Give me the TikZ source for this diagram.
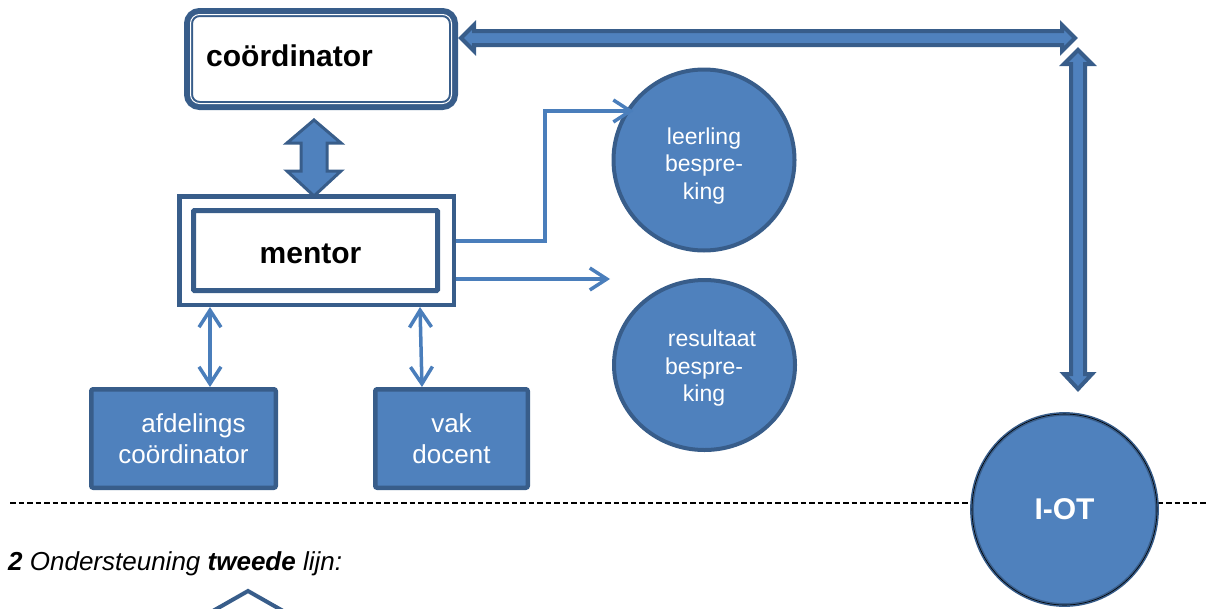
\documentclass[tikz,border=0pt]{standalone}
\usepackage{fontspec}
\setmainfont{Liberation Sans}
\usetikzlibrary{arrows.meta,shapes.geometric,calc}
\definecolor{fillb}{HTML}{4F81BD}
\definecolor{darkb}{HTML}{385D8A}
\definecolor{lineb}{HTML}{4A7EBB}
\begin{document}
\begin{tikzpicture}[x=1pt,y=-1pt,
  fatarrow/.style={fill=fillb, draw=darkb, line width=4pt, line join=miter},
  thinarrow/.style={draw=lineb, line width=3.5pt},
  barb/.tip={Straight Barb[length=17pt,width=22pt]},
  bigtxt/.style={inner sep=0, font=\bfseries\fontsize{30}{36}\selectfont},
  box/.style={draw=darkb, fill=fillb, line width=4.5pt, rounded corners=2pt, inner sep=0,
    text=white, align=center, font=\fontsize{26}{31}\selectfont},
  circ/.style={draw=darkb, fill=fillb, line width=4pt, inner sep=0},
  circtxt/.style={text=white, align=center, inner sep=0, font=\fontsize{23}{27.5}\selectfont}]
\useasboundingbox (0,0) rectangle (1206,608);
\clip (0,0) rectangle (1206,608);

% separator line
\coordinate (dl) at (10,503);
\coordinate (dr) at (1206,503);
\draw[black, line width=2.3pt, dash pattern=on 5.5pt off 3pt] (dl) -- (dr);

% coordinator
\node[draw=darkb, line width=9pt, rounded corners=11pt, minimum width=265pt,
  minimum height=93pt, inner sep=0, outer sep=0] (coord) at (321,59) {};
\draw[white, line width=1pt, rounded corners=9pt]
  ($(coord.north west)+(2,2)$) rectangle ($(coord.south east)+(-2,-2)$);
\node[bigtxt, anchor=base west] (coordtxt) at (206,66) {coördinator};

% mentor
\node[draw=darkb, line width=4.5pt, minimum width=274.5pt, minimum height=108.5pt,
  inner sep=0] (mentor) at (316.5,250.5) {};
\node[draw=darkb, line width=5pt, minimum width=244pt, minimum height=80pt,
  inner sep=0, rounded corners=1pt] (mentorin) at (315.5,250.5) {};
\node[bigtxt, anchor=base] (mentortxt) at (310.5,263) {mentor};

% fat arrow coordinator <-> mentor
\draw[fatarrow, line width=3pt] (314,120) -- (341,143) -- (327,143) -- (327,171) -- (341,171)
  -- (314,196) -- (287,171) -- (301,171) -- (301,143) -- (287,143) -- cycle;

% fat arrow coordinator <-> I-OT (horizontal)
\draw[fatarrow] (461,38) -- (474,25) -- (474,31) -- (1062,31) -- (1062,25) -- (1075,38)
  -- (1062,51) -- (1062,45) -- (474,45) -- (474,51) -- cycle;
% fat arrow vertical
\draw[fatarrow] (1078,50) -- (1092,64) -- (1085,64) -- (1085,374) -- (1092,374) -- (1078,389)
  -- (1064,374) -- (1071,374) -- (1071,64) -- (1064,64) -- cycle;

% boxes
\node[box, minimum width=184.5pt, minimum height=98.5pt] (afd) at (183.5,438.5)
  {\hspace*{20pt}afdelings\\coördinator};
\node[box, minimum width=152.5pt, minimum height=98.5pt] (vak) at (451.5,438.5) {vak\\docent};

% circles
\node[circ, circle, minimum size=181pt] (leer) at (704,160) {};
\node[circtxt] (leertxt) at (704,166) {leerling\\bespre-\\king};
\node[circ, ellipse, minimum width=181pt, minimum height=170pt] (res) at (704.5,365) {};
\node[circtxt] (restxt) at (704,368.5) {\hspace*{16pt}resultaat\\bespre-\\king};

% I-OT
\node[ellipse, fill=fillb, draw=darkb, line width=1.6pt, double=black, double distance=0.6pt,
  minimum width=185pt, minimum height=191pt, inner sep=0, text=white,
  font=\bfseries\fontsize{30}{36}\selectfont] (iot) at (1064.5,509.5) {I-OT};

% thin arrows
\draw[thinarrow, -barb] ([yshift=9.5pt]mentor.east) -- ++(89,0) |- ([xshift=8pt]leer.148);
\coordinate (resin) at (610,279);
\draw[thinarrow, -barb] ([yshift=-28.5pt]mentor.east) -- (resin);
\coordinate (xa) at (210,0);
\coordinate (xb1) at (420,0);
\coordinate (xb2) at (422,0);
\draw[thinarrow, barb-barb] (mentor.south -| xa) -- (afd.north -| xa);
\draw[thinarrow, barb-barb] (mentor.south -| xb1) -- (vak.north -| xb2);

% bottom text
\node[anchor=base west, inner sep=0, font=\itshape\fontsize{26}{31}\selectfont] (lijn)
  at (8,570) {\textbf{2} Ondersteuning \textbf{tweede} lijn:};

% partial shape at bottom
\draw[darkb, line width=4pt, line join=miter] (190,624) -- (248,591) -- (306,624);
\end{tikzpicture}
\end{document}
